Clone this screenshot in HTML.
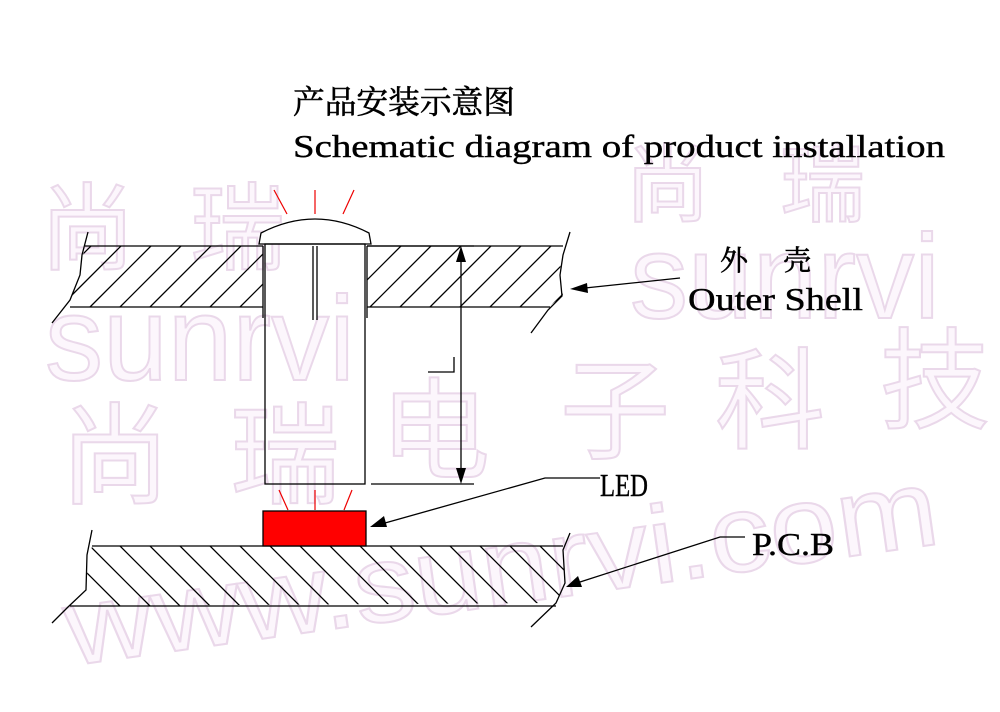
<!DOCTYPE html>
<html><head><meta charset="utf-8"><style>html,body{margin:0;padding:0;background:#fff;}svg{display:block}</style></head>
<body>
<svg width="1000" height="712" viewBox="0 0 1000 712" xmlns="http://www.w3.org/2000/svg">
<defs>
<clipPath id="shellL"><polygon points="88,232 80,270 70,300 52,323 70,307 263,307 263,246 85,246"/></clipPath>
<clipPath id="shellR"><polygon points="367,246 563,246 560,270 563,296 548,307 367,307"/></clipPath>
<clipPath id="pcb"><polygon points="92,546 563,546 565,583 556,603 85,606 86,580"/></clipPath>
</defs>
<!-- watermark -->
<g font-family="Liberation Sans, 'Noto Sans CJK SC', sans-serif" fill="#fcf6fc" stroke="#ead8ea" stroke-width="2">
<text x="40" y="262" font-size="95">尚</text>
<text x="190" y="262" font-size="95">瑞</text>
<text x="625" y="215" font-size="85">尚</text>
<text x="780" y="215" font-size="85">瑞</text>
<text x="45" y="380" font-size="120" textLength="310" lengthAdjust="spacingAndGlyphs">sunrvi</text>
<text x="630" y="318" font-size="120" textLength="310" lengthAdjust="spacingAndGlyphs">sunrvi</text>
<text x="60" y="495" font-size="110">尚</text>
<text x="230" y="495" font-size="110">瑞</text>
<text x="380" y="470" font-size="110">电</text>
<text x="560" y="450" font-size="110">子</text>
<text x="715" y="440" font-size="110">科</text>
<text x="880" y="420" font-size="110">技</text>
<text x="60" y="605" font-size="110" textLength="880" lengthAdjust="spacingAndGlyphs" transform="rotate(-8 500 560)">www.sunrvi.com</text>
</g>
<!-- titles -->
<text x="293" y="113" font-family="'Noto Serif CJK SC','Noto Sans CJK SC',serif" font-size="32" stroke="#000" stroke-width="0.6" textLength="222" lengthAdjust="spacingAndGlyphs">产品安装示意图</text>
<text x="293" y="157" font-family="'Liberation Serif',serif" font-size="32" stroke="#000" stroke-width="0.4" textLength="652" lengthAdjust="spacingAndGlyphs">Schematic diagram of product installation</text>
<g fill="none" stroke="#000" stroke-width="1.3">
<!-- shell -->
<line x1="85" y1="246" x2="263" y2="246"/><line x1="367" y1="246" x2="563" y2="246"/>
<line x1="70" y1="307" x2="263" y2="307"/><line x1="367" y1="307" x2="550" y2="307"/>
<polyline points="88,232 82,255 80,275 70,300 52,323"/>
<polyline points="570,232 563,255 560,275 562,296 548,310 531,333"/>
<g clip-path="url(#shellL)">
<path d="M60,307 l70,-70 M90,307 l70,-70 M120,307 l70,-70 M150,307 l70,-70 M180,307 l70,-70 M210,307 l70,-70 M240,307 l70,-70 M30,307 l70,-70"/>
</g>
<g clip-path="url(#shellR)">
<path d="M340,307 l70,-70 M370,307 l70,-70 M400,307 l70,-70 M430,307 l70,-70 M460,307 l70,-70 M490,307 l70,-70 M520,307 l70,-70 M550,307 l70,-70"/>
</g>
<!-- dome -->
<path d="M259,244 L261,233 Q315,205 369,233 L371,244 Z" fill="#fff"/>
<!-- body -->
<rect x="265" y="244" width="100" height="240"/>
<line x1="263" y1="246" x2="263" y2="318"/><line x1="367" y1="246" x2="367" y2="318"/>
<line x1="313" y1="246" x2="313" y2="320"/><line x1="317" y1="246" x2="317" y2="320"/>
<!-- dimension -->
<line x1="461" y1="250" x2="461" y2="480"/>
<line x1="371" y1="484" x2="474" y2="484"/>
<line x1="367" y1="246" x2="474" y2="246"/>
<polyline points="428,372 454,372 454,357"/>
<!-- pcb -->
<line x1="92" y1="546" x2="563" y2="546"/>
<line x1="70" y1="606" x2="556" y2="606"/>
<polyline points="92,530 87,555 86,590 68,607 52,623"/>
<polyline points="570,533 563,550 565,583 556,603 531,627"/>
<g clip-path="url(#pcb)">
<path d="M60,516 l90,90 M90,516 l90,90 M120,516 l90,90 M150,516 l90,90 M180,516 l90,90 M210,516 l90,90 M240,516 l90,90 M270,516 l90,90 M300,516 l90,90 M330,516 l90,90 M360,516 l90,90 M390,516 l90,90 M420,516 l90,90 M450,516 l90,90 M480,516 l90,90 M510,516 l90,90 M540,516 l90,90 M30,516 l90,90"/>
</g>
<!-- leaders -->
<line x1="680" y1="278" x2="585" y2="288"/>
<polyline points="600,478 545,478 385,523"/>
<polyline points="745,537 720,537 580,582"/>
</g>
<g fill="#000">
<polygon points="461,246 456,262 466,262"/><polygon points="461,484 456,468 466,468"/>
<polygon points="570,289 587,283 588,293"/>
<polygon points="370,527 384,516 387,527"/>
<polygon points="566,587 578,576 582,587"/>
</g>
<!-- LED -->
<rect x="263" y="511" width="103" height="35" fill="#f00" stroke="#000" stroke-width="1.3"/>
<g stroke="#e00" stroke-width="1.2">
<line x1="274" y1="190" x2="287" y2="214"/><line x1="315" y1="190" x2="315" y2="214"/><line x1="354" y1="190" x2="343" y2="214"/>
<line x1="279" y1="490" x2="288" y2="510"/><line x1="315" y1="490" x2="315" y2="510"/><line x1="352" y1="490" x2="344" y2="510"/>
</g>
<g font-family="'Liberation Serif',serif" fill="#000" stroke="#000" stroke-width="0.4">
<text x="720" y="270" font-family="'Noto Serif CJK SC','Noto Sans CJK SC',serif" font-size="28" stroke-width="0.6">外　 壳</text>
<text x="688" y="310" font-size="32" textLength="175" lengthAdjust="spacingAndGlyphs">Outer Shell</text>
<text x="600" y="496" font-size="32" textLength="48" lengthAdjust="spacingAndGlyphs">LED</text>
<text x="752" y="555" font-size="32" textLength="82" lengthAdjust="spacingAndGlyphs">P.C.B</text>
</g>
</svg>
</body></html>
